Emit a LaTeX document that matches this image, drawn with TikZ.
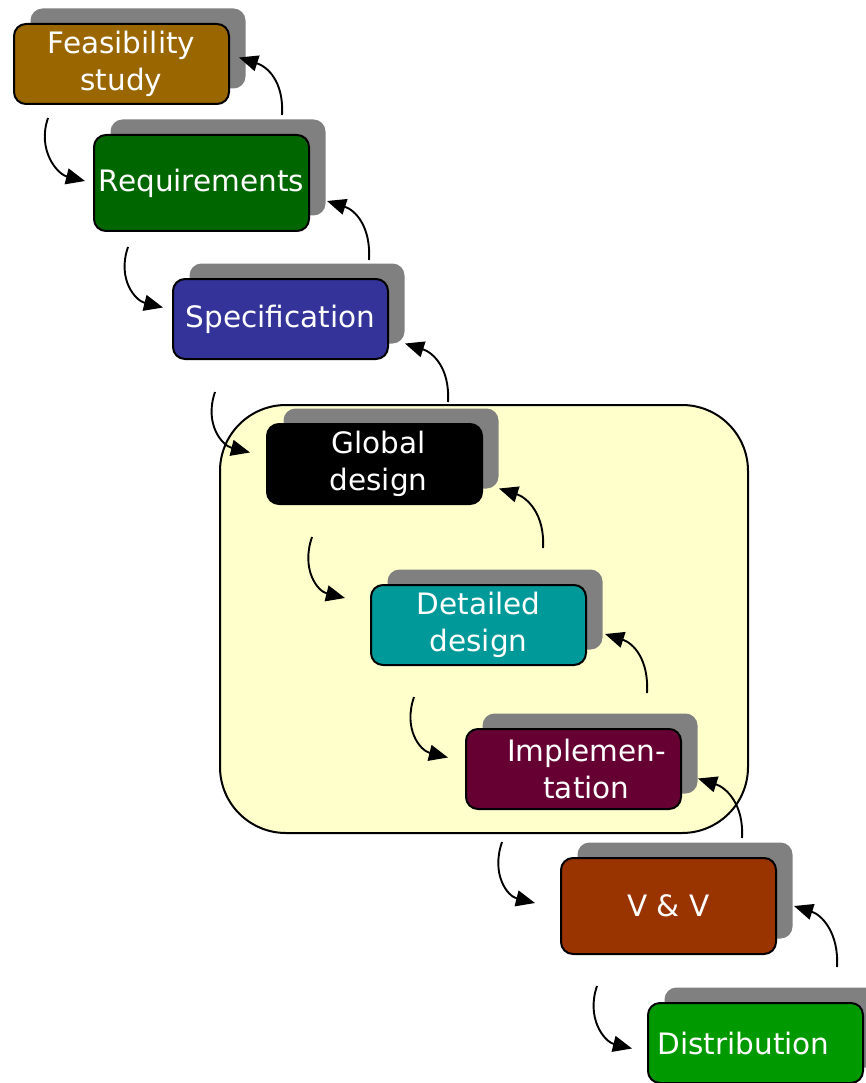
\documentclass[tikz,border=0pt]{standalone}
\usepackage{fontspec}
\setmainfont{DejaVu Sans}
\usetikzlibrary{arrows.meta,shadows}
\definecolor{feasC}{HTML}{996600}
\definecolor{reqC}{HTML}{006600}
\definecolor{specC}{HTML}{333399}
\definecolor{globC}{HTML}{000000}
\definecolor{detC}{HTML}{009999}
\definecolor{implC}{HTML}{660033}
\definecolor{vvC}{HTML}{993300}
\definecolor{distC}{HTML}{009900}
\definecolor{shadowC}{HTML}{808080}
\definecolor{devC}{HTML}{FFFFCC}
\begin{document}
\begin{tikzpicture}[x=1pt,y=-1pt,
  phase/.style={draw=black, line width=2pt, rounded corners=12pt,
    anchor=north west, minimum width=215pt, minimum height=80pt,
    inner sep=0pt, text=white, align=center,
    font=\fontsize{29.5}{37}\selectfont,
    general shadow={fill=shadowC, shadow xshift=16.5pt, shadow yshift=15.5pt}},
  tall/.style={minimum height=96pt},
  flow/.style={line width=1.9pt, -{Triangle[length=19pt,width=16pt]}},
  devstage/.style={draw=black, line width=2pt, fill=devC, rounded corners=66pt,
    anchor=north west, minimum width=528pt, minimum height=428pt, inner sep=0pt}]
\useasboundingbox (0,0) rectangle (866,1083);

% development stages container
\node[devstage] (dev) at (219,404) {};

% phases
\node[phase, fill=feasC] (feas) at (13,23) {\raisebox{-2pt}{Feasibility}\\\raisebox{-2pt}{study}};
\node[phase, tall, fill=reqC] (req) at (93,134) {Requirements};
\node[phase, fill=specC] (spec) at (172,278) {Specification};
\node[phase, fill=globC] (glob) at (266,423) {\hspace*{8pt}Global\\\hspace*{8pt}design};
\node[phase, fill=detC] (det) at (370,584) {Detailed\\design};
\node[phase, fill=implC] (impl) at (465,728) {\hspace*{26pt}Implemen-\\\hspace*{26pt}tation};
\node[phase, tall, fill=vvC] (vv) at (560,857) {V \& V};
\node[phase, fill=distC] (dist) at (647,1002) {Distribution\hspace*{24pt}};

% free ends of the connectors
\coordinate (d1) at (48,118);
\coordinate (d2) at (128,247);
\coordinate (d3) at (215,392);
\coordinate (d4) at (312,537);
\coordinate (d5) at (414,697);
\coordinate (d6) at (502,842);
\coordinate (d7) at (597,986);
\coordinate (u1) at (282,115);
\coordinate (u2) at (369,260);
\coordinate (u3) at (448,402);
\coordinate (u4) at (543,548);
\coordinate (u5) at (647,693);
\coordinate (u6) at (742,838);
\coordinate (u7) at (837,967);

% forward flow
\tikzset{fwd/.style={to path={.. controls +(-11,32) and +(-28,-7) .. (\tikztotarget)}}}
\draw[flow] (d1) to[fwd] ([shift={(-8,-2)}]req.west);
\draw[flow] (d2) to[fwd] ([shift={(-9,-11.5)}]spec.west);
\draw[flow] (d3) to[fwd] ([shift={(-16,-11.5)}]glob.west);
\draw[flow] (d4) to[fwd] ([shift={(-25,-27)}]det.west);
\draw[flow] (d5) to[fwd] ([shift={(-17,-11.5)}]impl.west);
\draw[flow] (d6) to[fwd] ([shift={(-25,-3)}]vv.west);
\draw[flow] (d7) to[fwd] ([shift={(-15,5.5)}]dist.west);

% feedback
\tikzset{back/.style={to path={.. controls +(2,-34) and +(28,9) .. (\tikztotarget)}}}
\draw[flow] (u1) to[back] ([shift={(9,-6.5)}]feas.east);
\draw[flow] (u2) to[back] ([shift={(17,18)}]req.east);
\draw[flow] (u3) to[back] ([shift={(16,24.5)}]spec.east);
\draw[flow] (u4) to[back] ([shift={(16,24.5)}]glob.east);
\draw[flow] (u5) to[back] ([shift={(18,9)}]det.east);
\draw[flow] (u6) to[back] ([shift={(16,9.5)}]impl.east);
\draw[flow] (u7) to[back] ([shift={(17,0)}]vv.east);
\end{tikzpicture}
\end{document}
